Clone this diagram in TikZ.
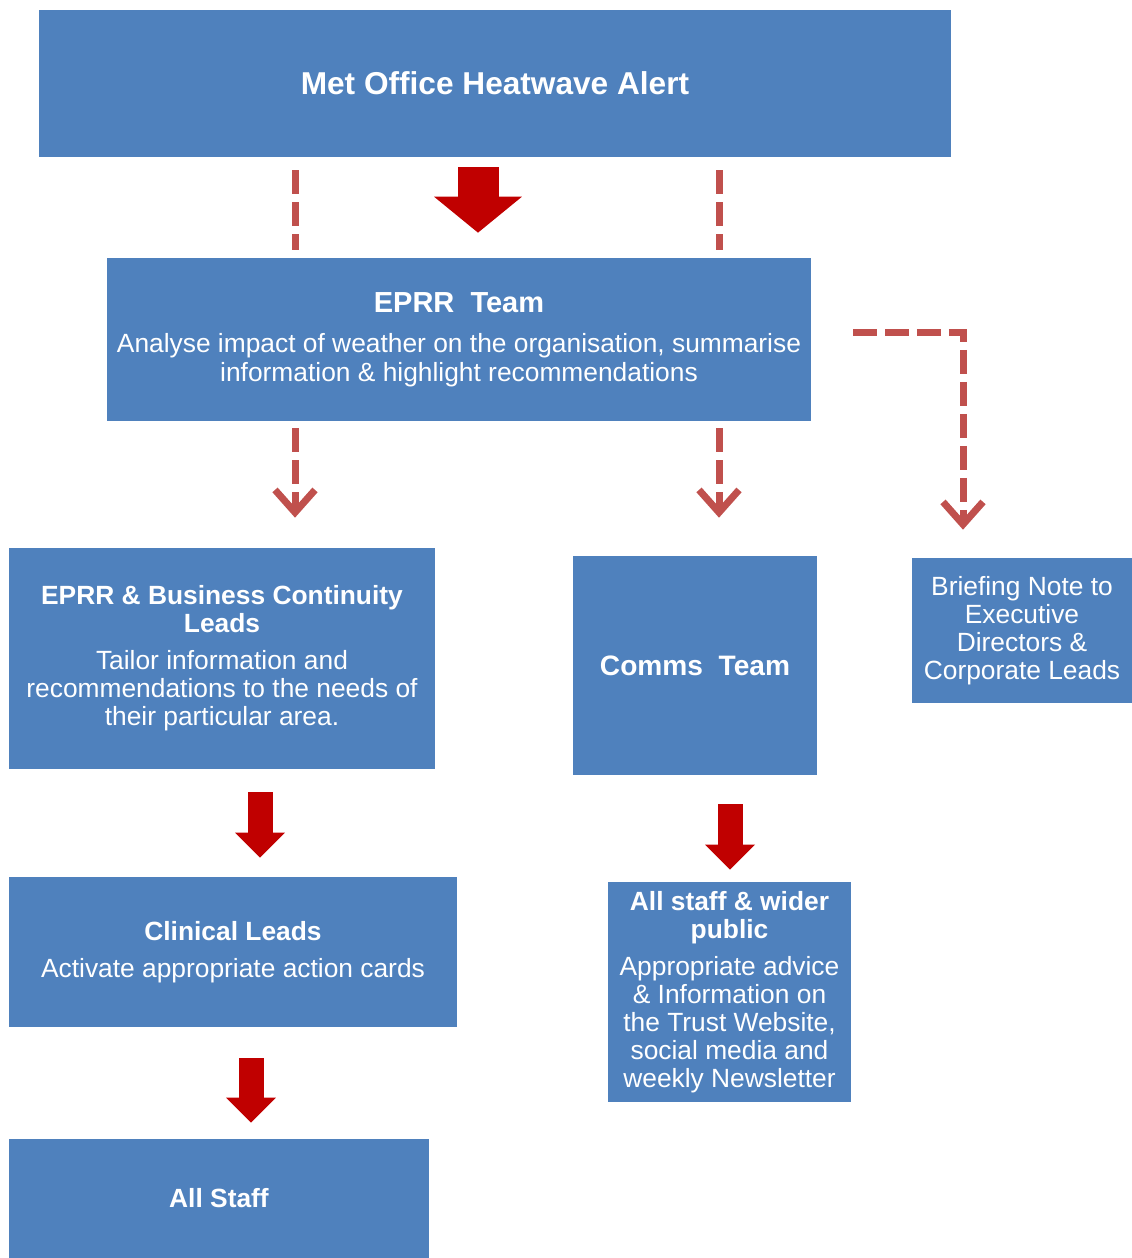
\documentclass[tikz,border=0pt]{standalone}
\usepackage{fontspec}
\setmainfont{Liberation Sans}
\usetikzlibrary{arrows.meta}

\definecolor{boxblue}{HTML}{4F81BD}
\definecolor{dashred}{HTML}{C0504D}
\definecolor{fatred}{HTML}{C00000}

\newcommand{\hdfont}{\fontsize{15}{16}\selectfont\bfseries}
\newcommand{\txfont}{\fontsize{15}{16}\selectfont\mdseries}

\begin{document}
\begin{tikzpicture}[x=0.02cm,y=-0.02cm,
	box/.style={fill=boxblue,text=white,align=center,inner sep=2pt,font=\txfont},
	dashline/.style={draw=dashred,line width=0.14cm,dash pattern=on 0.48cm off 0.16cm},
	dasharrow/.style={dashline,-{Straight Barb[length=0.45cm,width=0.8cm]}},
	bigarrow/.style={draw=fatred,line width=0.82cm,-{Triangle[length=0.72cm,width=1.76cm,line width=0pt]}},
	smallarrow/.style={draw=fatred,line width=0.5cm,-{Triangle[length=0.5cm,width=1.0cm,line width=0pt]}}]
	\useasboundingbox (0,0) rectangle (1132,1258);
	% boxes
	\node[box,minimum width=18.24cm,minimum height=2.94cm] (met) at (495,83.5) {\fontsize{18}{20}\selectfont\bfseries Met Office Heatwave Alert};
	\node[box,minimum width=14.08cm,minimum height=3.26cm] (eprr) at (459,339.5)
		{\fontsize{16.5}{17}\selectfont\bfseries EPRR\ \ Team\\[7pt]\txfont Analyse impact of weather on the organisation,\ summarise\\information \& highlight recommendations};
	\node[box,minimum width=8.52cm,minimum height=4.42cm] (bc) at (222,658.5)
		{\hdfont EPRR \& Business Continuity\\\hdfont Leads\\[5pt]\txfont Tailor information and\\recommendations to the needs of\\their particular area.};
	\node[box,minimum width=4.88cm,minimum height=4.38cm] (comms) at (695,665.5) {\fontsize{16}{17}\selectfont\bfseries Comms\ \ Team};
	\node[box,minimum width=4.40cm,minimum height=2.90cm] (brief) at (1022,630.5)
		{Briefing Note to\\Executive\\Directors \&\\Corporate Leads};
	\node[box,minimum width=8.96cm,minimum height=3.00cm] (clin) at (233,952)
		{\hdfont Clinical Leads\\[5pt]\txfont Activate appropriate action cards};
	\node[box,minimum width=4.86cm,minimum height=4.40cm] (public) at (729.5,992)
		{\hdfont All staff \& wider\\\hdfont public\\[5pt]\txfont Appropriate advice\\\& Information on\\the Trust Website,\\social media and\\weekly Newsletter};
	\node[box,minimum width=8.40cm,minimum height=2.38cm] (allstaff) at (219,1198.5) {\hdfont All Staff};
	% connectors
	\coordinate (lx) at (295,0);
	\coordinate (rx) at (719,0);
	\coordinate (ax) at (478,0);
	\coordinate (es) at (853,332);
	\coordinate (ex) at (963,0);
	\draw[dashline,shorten <=0.26cm,shorten >=0.16cm] (met.south -| lx) -- (eprr.north -| lx);
	\draw[dashline,shorten <=0.26cm,shorten >=0.16cm] (met.south -| rx) -- (eprr.north -| rx);
	\draw[bigarrow,shorten <=0.2cm,shorten >=0.5cm] (met.south -| ax) -- (eprr.north -| ax);
	\draw[dasharrow,shorten <=0.14cm,shorten >=0.6cm] (eprr.south -| lx) -- (bc.north -| lx);
	\draw[dasharrow,shorten <=0.14cm,shorten >=0.76cm] (eprr.south -| rx) -- (comms.north -| rx);
	\draw[dasharrow,shorten >=0.56cm] (es) -| (brief.north -| ex);
	\draw[smallarrow,shorten <=0.46cm,shorten >=0.38cm] (bc.south -| 260,0) -- (clin.north -| 260,0);
	\draw[smallarrow,shorten <=0.58cm,shorten >=0.24cm] (comms.south -| 730,0) -- (public.north -| 730,0);
	\draw[smallarrow,shorten <=0.62cm,shorten >=0.32cm] (clin.south -| 251,0) -- (allstaff.north -| 251,0);
\end{tikzpicture}
\end{document}
